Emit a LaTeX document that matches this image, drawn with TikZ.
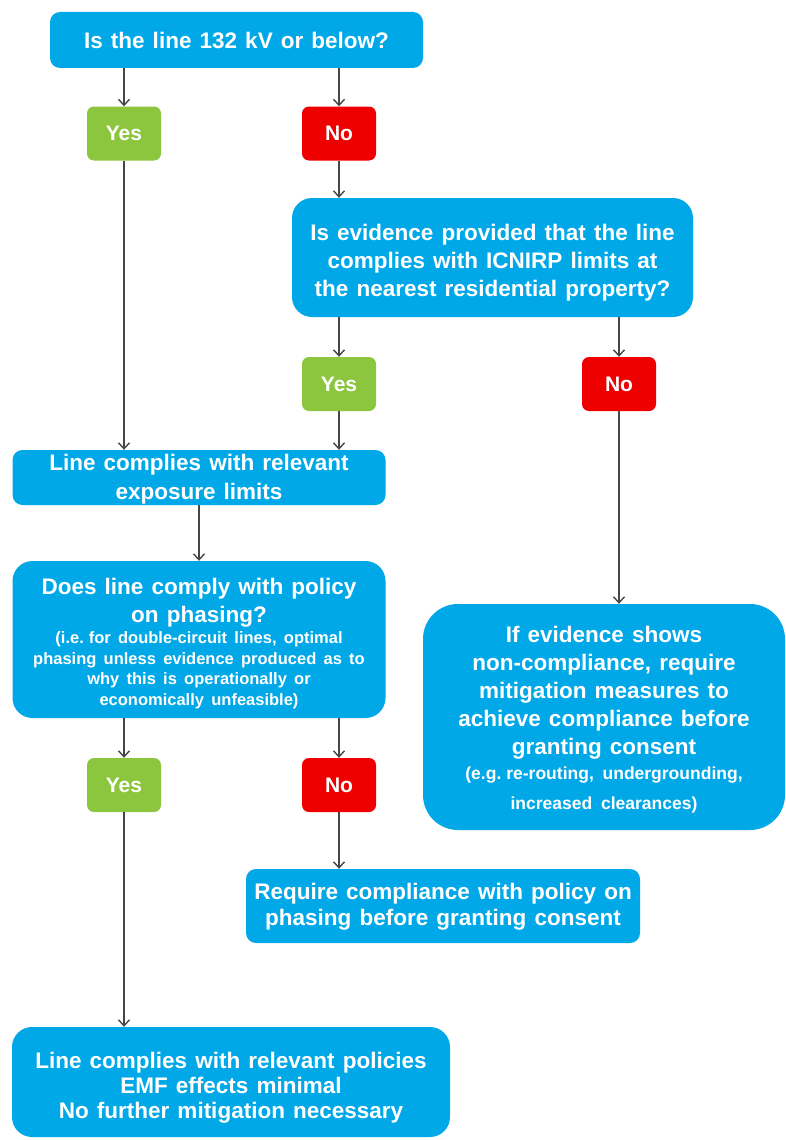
\documentclass[tikz,border=0pt]{standalone}
\usepackage{fontspec}
\setmainfont{Liberation Sans}
\usetikzlibrary{arrows.meta}
\definecolor{fblue}{RGB}{0,168,232}
\definecolor{fgreen}{RGB}{140,198,63}
\definecolor{fred}{RGB}{238,0,0}
\definecolor{arrgray}{RGB}{70,70,70}
\newcommand\txtbig{\fontsize{22.5}{28}\selectfont\spaceskip=.36em\relax}
\newcommand\txtsml{\fontsize{16.5}{20.5}\selectfont\spaceskip=.44em\relax}
\newcommand\txtsmb{\fontsize{17.5}{25}\selectfont\spaceskip=.5em\relax}
\newcommand\lift[1]{\rule{0pt}{#1pt}}
\begin{document}
\begin{tikzpicture}[x=1pt,y=-1pt,
  box/.style={fill=fblue, rounded corners=#1, text=white, font=\bfseries,
    align=center, inner sep=0pt, draw=none},
  ansbox/.style={fill=#1, rounded corners=7pt, text=white,
    font=\bfseries\fontsize{21}{24}\selectfont, inner sep=0pt,
    minimum width=74pt, minimum height=54pt},
  arr/.style={draw=arrgray, line width=1.4pt,
    -{Straight Barb[length=6pt,width=11pt]}}
]
\useasboundingbox (0,0) rectangle (786,1140);
\fill[white] (0,0) rectangle (786,1140);

% question 1
\node[box=10pt, minimum width=373pt, minimum height=56pt, text width=365pt]
  (q1) at (236.5,40) {\txtbig Is the line 132 kV or below?\par};
\node[ansbox=fgreen] (y1) at (124,133.5) {Yes};
\node[ansbox=fred] (n1) at (339,133.5) {No};

% question 2
\node[box=20pt, minimum width=401pt, minimum height=119pt, text width=395pt]
  (q2) at (492.5,257.5) {\txtbig\lift{26}Is evidence provided that the line\\
  complies with ICNIRP limits at\\ the nearest residential property?\par};
\node[ansbox=fgreen] (y2) at (339,384) {Yes};
\node[ansbox=fred] (n2) at (619,384) {No};

% exposure limits
\node[box=10pt, minimum width=373pt, minimum height=55pt, text width=365pt]
  (ex) at (199,477.5) {\fontsize{22.5}{28.5}\selectfont\spaceskip=.36em\relax
  \lift{20}Line complies with relevant\\ exposure limits\par};

% question 3
\node[box=20pt, minimum width=373pt, minimum height=157pt, text width=368pt]
  (q3) at (199,639.5) {{\txtbig\lift{24}Does line comply with policy\\ on phasing?\par}
  \vspace{1pt}
  {\txtsml (i.e. for double-circuit lines, optimal\\
  phasing unless evidence produced as to\\
  why this is operationally or\\
  economically unfeasible)\par}};
\node[ansbox=fgreen] (y3) at (124,785) {Yes};
\node[ansbox=fred] (n3) at (339,785) {No};

% mitigation
\node[box=35pt, minimum width=362pt, minimum height=226pt, text width=355pt]
  (mi) at (604,717) {{\txtbig\lift{21}If evidence shows\\ non-compliance, require\\
  mitigation measures to\\ achieve compliance before\\ granting consent\par}
  {\txtsmb (e.g. re-routing, undergrounding,\\[5pt]
  increased clearances)\par}};

% phasing requirement
\node[box=10pt, minimum width=394pt, minimum height=74pt, text width=388pt]
  (ph) at (443,906) {\fontsize{22.5}{26.5}\selectfont\spaceskip=.36em\relax
  \lift{18}Require compliance with policy on\\ phasing before granting consent\par};

% final
\node[box=20pt, minimum width=438pt, minimum height=110pt, text width=430pt]
  (fi) at (231,1082) {\fontsize{22.5}{25}\selectfont\spaceskip=.36em\relax
  \lift{28}Line complies with relevant policies\\
  EMF effects minimal\\ No further mitigation necessary\par};

% connectors
\draw[arr] (q1.south -| y1) -- (y1.north);
\draw[arr] (q1.south -| n1) -- (n1.north);
\draw[arr] (n1.south) -- (n1 |- q2.north);
\draw[arr] (q2.south -| y2) -- (y2.north);
\draw[arr] (q2.south -| n2) -- (n2.north);
\draw[arr] (y1.south) -- (y1 |- ex.north);
\draw[arr] (y2.south) -- (y2 |- ex.north);
\draw[arr] (ex.south) -- (q3.north);
\draw[arr] (n2.south) -- (n2 |- mi.north);
\draw[arr] (q3.south -| y3) -- (y3.north);
\draw[arr] (q3.south -| n3) -- (n3.north);
\draw[arr] (n3.south) -- (n3 |- ph.north);
\draw[arr] (y3.south) -- (y3 |- fi.north);
\end{tikzpicture}
\end{document}
